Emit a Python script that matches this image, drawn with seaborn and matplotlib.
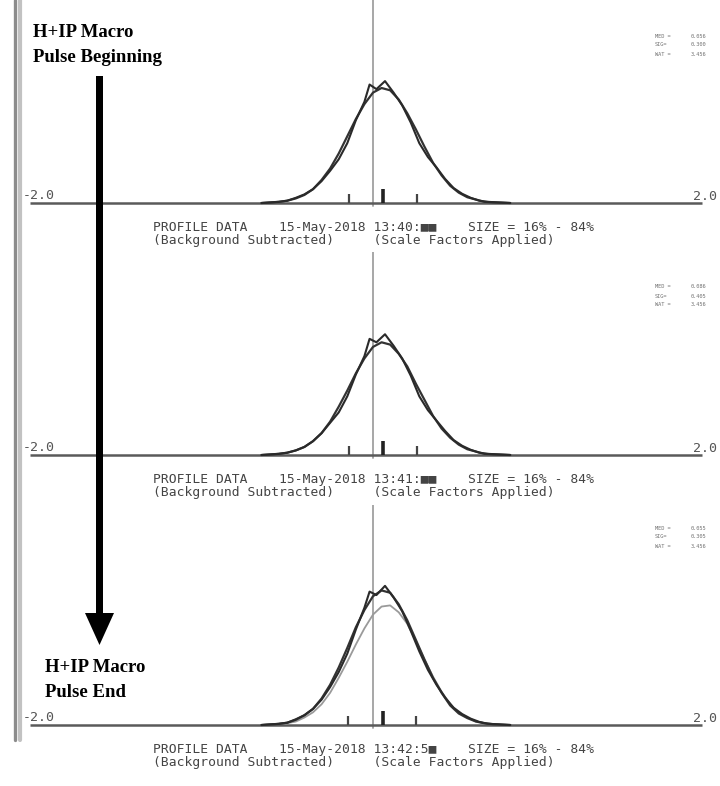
import matplotlib
matplotlib.use("Agg")
import matplotlib.pyplot as plt
from matplotlib.patches import FancyArrow
import seaborn as sns

# ---- profile data (position in mm, intensity in arbitrary units) ----
fit_x = [-0.65, -0.60, -0.55, -0.50, -0.45, -0.40, -0.35, -0.30, -0.25, -0.20,
         -0.15, -0.10, -0.05, 0.00, 0.05, 0.10, 0.15, 0.20, 0.25, 0.30,
         0.35, 0.40, 0.45, 0.50, 0.55, 0.60, 0.65, 0.70, 0.75, 0.80]

fit_1 = [0.00, 0.005, 0.01, 0.02, 0.04, 0.07, 0.12, 0.20, 0.30, 0.43,
         0.58, 0.73, 0.86, 0.96, 1.00, 0.98, 0.90, 0.78, 0.64, 0.49,
         0.35, 0.24, 0.15, 0.09, 0.05, 0.03, 0.01, 0.006, 0.003, 0.00]
fit_2 = [0.00, 0.005, 0.01, 0.02, 0.04, 0.07, 0.12, 0.19, 0.29, 0.42,
         0.56, 0.71, 0.84, 0.94, 0.98, 0.96, 0.88, 0.77, 0.62, 0.48,
         0.34, 0.23, 0.15, 0.09, 0.05, 0.03, 0.01, 0.006, 0.003, 0.00]
fit_3 = [0.00, 0.005, 0.01, 0.02, 0.045, 0.085, 0.14, 0.23, 0.35, 0.50,
         0.67, 0.85, 1.00, 1.12, 1.17, 1.15, 1.05, 0.91, 0.74, 0.57,
         0.41, 0.28, 0.17, 0.10, 0.06, 0.03, 0.015, 0.007, 0.003, 0.00]
# lighter reference profile shown in the last frame
ref_3 = [0.00, 0.005, 0.01, 0.016, 0.03, 0.065, 0.11, 0.18, 0.28, 0.41,
         0.55, 0.70, 0.84, 0.96, 1.03, 1.04, 0.98, 0.88, 0.73, 0.57,
         0.42, 0.29, 0.18, 0.11, 0.065, 0.03, 0.016, 0.008, 0.003, 0.00]

data_x = [-0.65, -0.55, -0.50, -0.45, -0.40, -0.35, -0.30, -0.25, -0.20, -0.15,
          -0.10, -0.05, -0.02, 0.02, 0.07, 0.12, 0.17, 0.22, 0.27, 0.32,
          0.37, 0.42, 0.47, 0.52, 0.57, 0.62, 0.67, 0.80]
data_1 = [0.00, 0.01, 0.02, 0.045, 0.075, 0.12, 0.19, 0.28, 0.38, 0.52,
          0.72, 0.88, 1.03, 0.99, 1.06, 0.96, 0.85, 0.70, 0.52, 0.40,
          0.31, 0.21, 0.13, 0.08, 0.045, 0.02, 0.01, 0.00]
data_2 = [0.00, 0.01, 0.02, 0.04, 0.07, 0.12, 0.19, 0.28, 0.37, 0.51,
          0.70, 0.86, 1.01, 0.98, 1.05, 0.95, 0.84, 0.69, 0.51, 0.39,
          0.30, 0.21, 0.13, 0.08, 0.045, 0.02, 0.01, 0.00]
data_3 = [0.00, 0.01, 0.02, 0.05, 0.085, 0.14, 0.22, 0.33, 0.46, 0.62,
          0.83, 1.02, 1.16, 1.13, 1.21, 1.11, 0.99, 0.82, 0.64, 0.48,
          0.35, 0.24, 0.15, 0.095, 0.055, 0.027, 0.011, 0.00]

# 16 %, mean and 84 % markers (mm)
markers = [[-0.14, 0.058, 0.257],
           [-0.14, 0.058, 0.257],
           [-0.146, 0.058, 0.251]]

times = ["13:40:\u25a0\u25a0", "13:41:\u25a0\u25a0", "13:42:5\u25a0"]
stat_names = ["MED =", "SIG=", "WAT ="]
stat_values = [["0.056", "0.300", "3.456"],
               ["0.086", "0.405", "3.456"],
               ["0.055", "0.305", "3.456"]]
range_labels = ["-2.0", "2.0"]

fits = [fit_1, fit_2, fit_3]
datas = [data_1, data_2, data_3]

# ---- layout (pixels) ----
W, H = 720, 786
PX_LEFT, PX_RIGHT = 30, 716          # pixel positions of -2.0 and +2.0 mm
S = 115.0                            # pixels per intensity unit
MM = (PX_RIGHT - PX_LEFT) / 4.0
X0 = -2.0 - PX_LEFT / MM
X1 = 2.0 + (W - PX_RIGHT) / MM
panel_top = [0, 252, 505]
panel_bot = [215, 467, 737]
panel_base = [203, 455, 725]
stat_y = [36, 287, 528]

sns.set_style("white")
plt.rcParams["font.family"] = ["DejaVu Sans"]

fig = plt.figure(figsize=(W / 100, H / 100), dpi=100)
fig.patch.set_facecolor("white")

DARK = "#333333"
for i in range(3):
    top, bot, base = panel_top[i], panel_bot[i], panel_base[i]
    ax = fig.add_axes([0, 1 - bot / H, 1, (bot - top) / H])
    ax.set_xlim(X0, X1)
    ax.set_ylim(-(bot - base) / S, (base - top) / S)
    ax.set_axis_off()
    ax.patch.set_alpha(0)

    # centre line and baseline
    ax.axvline(0, ymin=(bot - base - 3) / (bot - top), ymax=1,
               color="#a0a0a0", lw=1.3, zorder=1)
    ax.hlines(0, -2.0, 1.92, color="#5a5a5a", lw=1.8, zorder=2)

    if i == 2:
        sns.lineplot(x=fit_x, y=ref_3, ax=ax, color="#9a9a9a", lw=1.3,
                     estimator=None, sort=False, zorder=3)
    sns.lineplot(x=fit_x, y=fits[i], ax=ax, color=DARK, lw=1.6,
                 estimator=None, sort=False, zorder=4)
    sns.lineplot(x=data_x, y=datas[i], ax=ax, color="#2a2a2a", lw=1.5,
                 estimator=None, sort=False, zorder=5)

    m = markers[i]
    ax.vlines([m[0], m[2]], 0, 0.08, color="#444444", lw=1.6, zorder=6)
    ax.vlines(m[1], 0, 0.125, color="#222222", lw=2.6, zorder=6)

# ---- overlay in pixel coordinates ----
ov = fig.add_axes([0, 0, 1, 1])
ov.set_xlim(0, W)
ov.set_ylim(H, 0)
ov.set_axis_off()
ov.patch.set_alpha(0)

ov.plot([14.5, 14.5], [0, 740], color="#8c8c8c", lw=2.4)
ov.plot([19.5, 19.5], [0, 740], color="#c2c2c2", lw=3.0)

mono = "DejaVu Sans Mono"
TXT = "#444444"
for i in range(3):
    base = panel_base[i]
    ov.text(23, base - 4, range_labels[0], family=mono, fontsize=9.5,
            color="#555555", va="baseline", ha="left")
    ov.text(717, base - 3, range_labels[1], family=mono, fontsize=9.5,
            color="#555555", va="baseline", ha="right")

    y1, y2 = base + 28, base + 41
    line1 = "PROFILE DATA    15-May-2018 " + times[i] + "    SIZE = 16% - 84%"
    line2 = "(Background Subtracted)     (Scale Factors Applied)"
    ov.text(153, y1, line1, family=mono, fontsize=9.4, color=TXT,
            va="baseline")
    ov.text(153, y2, line2, family=mono, fontsize=9.4, color=TXT,
            va="baseline")

    for k in range(3):
        yy = stat_y[i] + 9 * k
        ov.text(655, yy, stat_names[k], family=mono, fontsize=3.8,
                color="#707070", va="center")
        ov.text(691, yy, stat_values[i][k], family=mono, fontsize=3.8,
                color="#707070", va="center")

serif = "Liberation Serif"
ov.text(33, 37, "H+IP Macro", family=serif, weight="bold", fontsize=13.5,
        color="black", va="baseline")
ov.text(33, 62, "Pulse Beginning", family=serif, weight="bold", fontsize=13.5,
        color="black", va="baseline")
ov.text(45, 672, "H+IP Macro", family=serif, weight="bold", fontsize=13.5,
        color="black", va="baseline")
ov.text(45, 697, "Pulse End", family=serif, weight="bold", fontsize=13.5,
        color="black", va="baseline")

ov.add_patch(FancyArrow(99.5, 76, 0, 569, width=7, head_width=29,
                        head_length=32, length_includes_head=True,
                        color="black", lw=0))

fig.savefig("out.png", dpi=100, facecolor="white")
